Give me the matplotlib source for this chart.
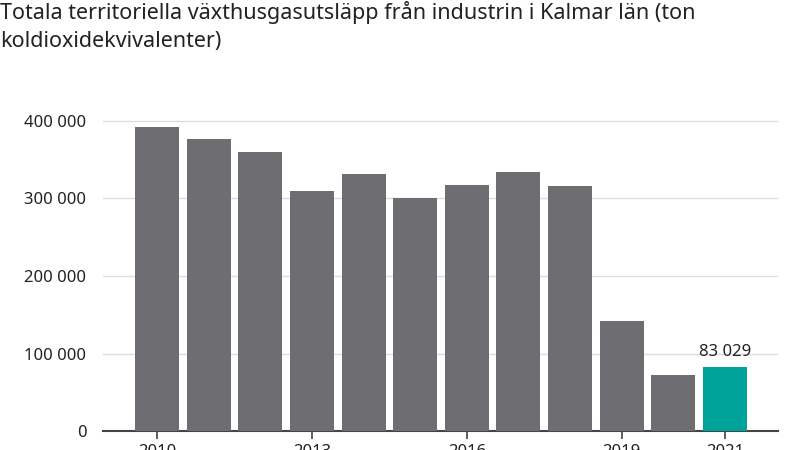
import matplotlib
matplotlib.use("Agg")
import matplotlib.pyplot as plt

years = [2010, 2011, 2012, 2013, 2014, 2015, 2016, 2017, 2018, 2019, 2020, 2021]
values = [392000, 377000, 360000, 310000, 332000, 301000, 317000, 334000, 316000, 142000, 72000, 83029]
xticks = [2010, 2013, 2016, 2019, 2021]
yticks = [0, 100000, 200000, 300000, 400000]
ytick_labels = ["0", "100 000", "200 000", "300 000", "400 000"]
title = "Totala territoriella växthusgasutsläpp från industrin i Kalmar län (ton\nkoldioxidekvivalenter)"

plt.rcParams['font.family'] = ['Noto Sans', 'DejaVu Sans']
fig = plt.figure(figsize=(8, 4.5), dpi=100)
ax = fig.add_axes([103/800, 19/450, 675/800, (431-105.5)/450])
colors = ["#6e6d72"] * (len(years) - 1) + ["#00a39a"]
ax.bar(years, values, width=0.85, color=colors, zorder=3)
ax.set_xlim(2008.95, 2022.03)
ax.set_ylim(0, 420000)
ax.set_yticks(yticks)
ax.set_yticklabels(ytick_labels, fontsize=12, color="#222222")
ax.set_xticks(xticks)
ax.set_xticklabels([str(x) for x in xticks], fontsize=12, color="#222222")
ax.tick_params(axis='y', length=0, pad=12)
ax.tick_params(axis='x', length=6, width=1.2, color="#444444")
ax.grid(axis='y', color="#dddddd", linewidth=1, zorder=0)
for s in ['top', 'right', 'left']:
    ax.spines[s].set_visible(False)
ax.spines['bottom'].set_color("#444444")
ax.spines['bottom'].set_linewidth(1.5)
ax.text(years[-1], values[-1] + 8000, "83 029", ha='center', va='bottom', fontsize=12, color="#222222")
fig.text(0.0, 0.998, title, ha='left', va='top', fontsize=15.5, color="#222222", linespacing=1.45)
fig.savefig("out.png", dpi=100)
